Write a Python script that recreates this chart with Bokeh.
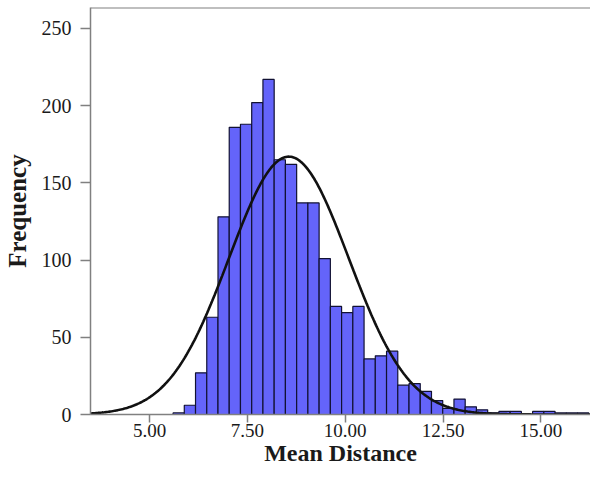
import numpy as np
from bokeh.plotting import figure
from bokeh.models import FixedTicker, NumeralTickFormatter, Span, Range1d
from bokeh.embed import file_html
from bokeh.resources import INLINE

# Histogram data
bin_start = 5.60
bin_width = 0.2872
counts = [1, 6, 27, 63, 128, 186, 188, 202, 217, 165, 162, 137, 137, 101,
          70, 66, 70, 36, 38, 41, 19, 20, 15, 9, 4, 10, 5, 3, 1, 2, 2, 0,
          2, 2, 1, 1, 1]

# Fitted normal curve parameters
curve_mean = 8.56
curve_sd = 1.53
curve_peak = 167.0

x_ticks = [5.0, 7.5, 10.0, 12.5, 15.0]
y_ticks = [0, 50, 100, 150, 200, 250]

x_start, x_end = 3.49, 16.27
y_top = 263.6

lefts = [bin_start + i * bin_width for i in range(len(counts))]
rights = [l + bin_width for l in lefts]

p = figure(output_backend="svg", toolbar_location=None,
           width=590, height=469,
           x_range=Range1d(x_start, x_end), y_range=Range1d(0, y_top),
           min_border_left=89, min_border_top=7, min_border_right=0,
           min_border_bottom=55)

p.quad(left=lefts, right=rights, bottom=0, top=counts,
       fill_color="#6464FA", line_color="#111133", line_width=1.2)

xs = np.linspace(x_start, x_end, 400)
ys = curve_peak * np.exp(-0.5 * ((xs - curve_mean) / curve_sd) ** 2)
p.line(xs, ys, line_color="#111111", line_width=2.6)

p.grid.visible = False
p.outline_line_color = None
p.add_layout(Span(location=y_top, dimension="width", line_color="#808080", line_width=2))

for ax in (p.xaxis[0], p.yaxis[0]):
    ax.axis_line_color = "#808080"
    ax.axis_line_width = 1.5
    ax.major_tick_line_color = "#808080"
    ax.major_tick_line_width = 1.5
    ax.minor_tick_line_color = None
    ax.major_tick_in = 0
    ax.major_label_text_font = "Liberation Serif"
    ax.major_label_text_font_size = "20px"
    ax.major_label_text_color = "#1a1a1a"
    ax.axis_label_text_font = "Liberation Serif"
    ax.axis_label_text_font_style = "bold"
    ax.axis_label_text_font_size = "25px"
    ax.axis_label_text_color = "#1a1a1a"

p.xaxis[0].ticker = FixedTicker(ticks=x_ticks)
p.xaxis[0].formatter = NumeralTickFormatter(format="0.00")
p.xaxis[0].major_tick_out = 8
p.xaxis[0].major_label_standoff = 1
p.xaxis[0].major_label_text_font_size = "19px"
p.xaxis[0].axis_label = "Mean Distance"
p.xaxis[0].axis_label_standoff = 0
p.xaxis[0].axis_label_text_font_size = "24px"

p.yaxis[0].ticker = FixedTicker(ticks=y_ticks)
p.yaxis[0].major_tick_out = 10
p.yaxis[0].major_label_standoff = 9
p.yaxis[0].axis_label = "Frequency"
p.yaxis[0].axis_label_standoff = 8

open("out.html", "w").write(file_html(p, INLINE))
